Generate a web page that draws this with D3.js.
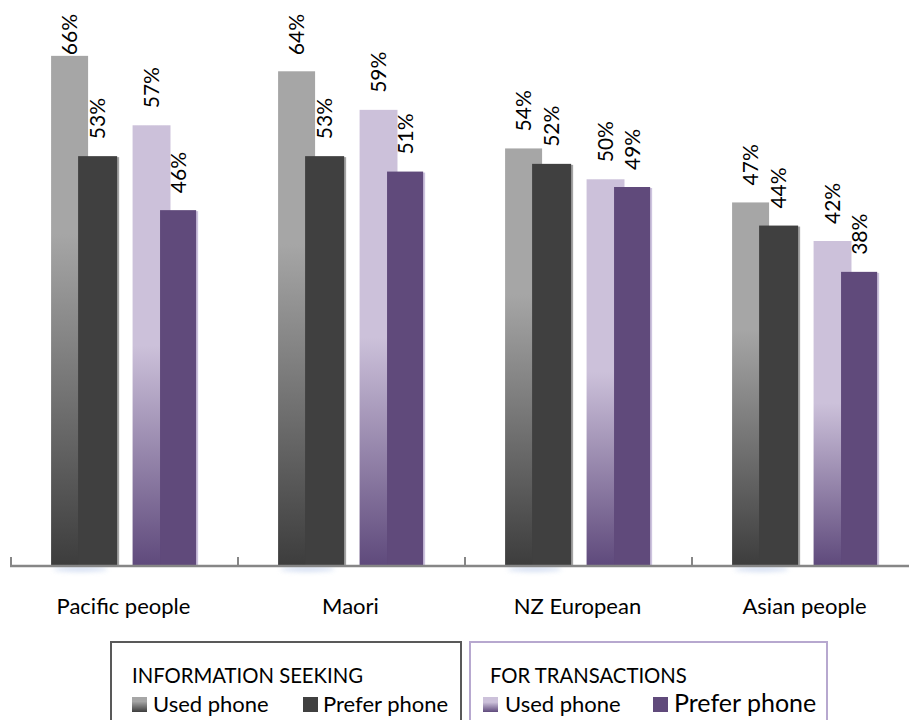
<!DOCTYPE html>
<html>
<head>
<meta charset="utf-8">
<script src="https://cdn.jsdelivr.net/npm/d3@7/dist/d3.min.js"></script>
<style>
  html, body { margin: 0; padding: 0; background: #fff; }
  svg { display: block; font-family: Lato, "Open Sans", sans-serif; }
</style>
</head>
<body>
<svg id="chart" width="909" height="720"></svg>
<script>
// Phone use by ethnic group: information seeking vs transactions
const categories = ["Pacific people", "Maori", "NZ European", "Asian people"];
const infoUsed    = [66, 64, 54, 47];
const infoPrefer  = [53, 53, 52, 44];
const transUsed   = [57, 59, 50, 42];
const transPrefer = [46, 51, 49, 38];
const seriesKeys  = ["infoUsed", "infoPrefer", "transUsed", "transPrefer"];
const seriesValues = { infoUsed, infoPrefer, transUsed, transPrefer };
const legendGroups = [
  { title: "INFORMATION SEEKING", items: ["Used phone", "Prefer phone"], keys: ["infoUsed", "infoPrefer"] },
  { title: "FOR TRANSACTIONS",    items: ["Used phone", "Prefer phone"], keys: ["transUsed", "transPrefer"] }
];

const svg = d3.select("#chart");
const defs = svg.append("defs");

// vertical gradients for the "used" series
function vGrad(id, top, bottom, start) {
  const g = defs.append("linearGradient").attr("id", id)
    .attr("x1", 0).attr("y1", 0).attr("x2", 0).attr("y2", 1);
  g.append("stop").attr("offset", 0).attr("stop-color", top);
  g.append("stop").attr("offset", start).attr("stop-color", top);
  g.append("stop").attr("offset", 1).attr("stop-color", bottom);
}
vGrad("gInfoUsed", "#a6a6a6", "#3d3d3d", 0.35);
vGrad("gTransUsed", "#ccc1da", "#5f4a7c", 0.5);
vGrad("gInfoIcon", "#a6a6a6", "#3d3d3d", 0.3);
vGrad("gTransIcon", "#ccc1da", "#5f4a7c", 0.35);

defs.append("filter").attr("id", "soft")
  .attr("x", "-50%").attr("y", "-200%").attr("width", "200%").attr("height", "500%")
  .append("feGaussianBlur").attr("stdDeviation", 2.5);

const fills = {
  infoUsed: "url(#gInfoUsed)", infoPrefer: "#404040",
  transUsed: "url(#gTransUsed)", transPrefer: "#604a7b"
};
const shadowFill = { infoPrefer: "#a3a3a3", transPrefer: "#cdc3de" };
const iconFill = {
  infoUsed: "url(#gInfoIcon)", infoPrefer: "#404040",
  transUsed: "url(#gTransIcon)", transPrefer: "#604a7b"
};

const x = d3.scaleBand().domain(categories).range([10, 918]).padding(0);
const y = d3.scaleLinear().domain([0, 70]).range([565, 25]);
const bw = x.bandwidth();
// position and width of each series inside a category, as fractions of the band
const offset = d3.scaleOrdinal().domain(seriesKeys).range([0.181, 0.300, 0.540, 0.661]);
const widthFrac = d3.scaleOrdinal().domain(seriesKeys).range([0.163, 0.172, 0.167, 0.159]);

// soft glow below the axis under the information bars
svg.append("g").selectAll("ellipse").data(categories).join("ellipse")
  .attr("cx", d => x(d) + bw * 0.31)
  .attr("cy", y(0) + 4)
  .attr("rx", bw * 0.12).attr("ry", 2.5)
  .attr("fill", "#c5d3ee").attr("opacity", 0.8)
  .attr("filter", "url(#soft)");

const plot = svg.append("g");
seriesKeys.forEach(key => {
  const data = categories.map((c, i) => ({ c, v: seriesValues[key][i] }));
  const g = plot.append("g").attr("class", key);
  if (shadowFill[key]) {
    g.selectAll("rect.sh").data(data).join("rect").attr("class", "sh")
      .attr("x", d => x(d.c) + bw * offset(key) + 2)
      .attr("y", d => y(d.v) + 1)
      .attr("width", bw * widthFrac(key))
      .attr("height", d => y(0) - y(d.v) - 1)
      .attr("fill", shadowFill[key]);
  }
  g.selectAll("rect.bar").data(data).join("rect").attr("class", "bar")
    .attr("x", d => x(d.c) + bw * offset(key))
    .attr("y", d => y(d.v))
    .attr("width", bw * widthFrac(key))
    .attr("height", d => y(0) - y(d.v))
    .attr("fill", fills[key]);
});

// axis line with category dividers
const axis = svg.append("g");
axis.append("line").attr("x1", 10).attr("x2", 918)
  .attr("y1", y(0) + 1).attr("y2", y(0) + 1)
  .attr("stroke", "#868686").attr("stroke-width", 2.5);
axis.selectAll("line.tick").data(categories).join("line").attr("class", "tick")
  .attr("x1", d => x(d) + 1).attr("x2", d => x(d) + 1)
  .attr("y1", y(0) - 8).attr("y2", y(0) + 1)
  .attr("stroke", "#868686").attr("stroke-width", 2);

axis.selectAll("text.cat").data(categories).join("text").attr("class", "cat")
  .attr("x", d => x(d) + bw / 2).attr("y", 614)
  .attr("text-anchor", "middle").attr("font-size", 22).attr("fill", "#000")
  .text(d => d);

// rotated value labels above each bar
const labels = svg.append("g");
seriesKeys.forEach(key => {
  categories.forEach((c, i) => {
    const v = seriesValues[key][i];
    const cx = x(c) + bw * offset(key) + bw * widthFrac(key) / 2;
    const t = labels.append("text")
      .attr("font-size", 21).attr("fill", "#000")
      .attr("dy", "0.36em")
      .text(v + "%");
    const len = t.node().getComputedTextLength();
    const yb = Math.max(y(v) - 17, 14 + len);
    t.attr("transform", `translate(${cx},${yb}) rotate(-90)`);
  });
});

// legend boxes
const legend = svg.append("g");
const boxes = [
  { x: 111, w: 350, stroke: "#595959", titleX: 132, iconX: [132, 303], textX: [153, 323], sizes: [22, 22] },
  { x: 470, w: 357, stroke: "#b7a8cf", titleX: 490, iconX: [483, 653], textX: [505, 674], sizes: [22, 25] }
];
legendGroups.forEach((grp, gi) => {
  const b = boxes[gi];
  legend.append("rect").attr("x", b.x).attr("y", 642).attr("width", b.w).attr("height", 120)
    .attr("fill", "none").attr("stroke", b.stroke).attr("stroke-width", 2);
  legend.append("text").attr("x", b.titleX).attr("y", 683)
    .attr("font-size", 20.3).attr("fill", "#000").text(grp.title);
  grp.items.forEach((label, j) => {
    legend.append("rect").attr("x", b.iconX[j]).attr("y", 697).attr("width", 15).attr("height", 15)
      .attr("fill", iconFill[grp.keys[j]]);
    legend.append("text").attr("x", b.textX[j]).attr("y", 712)
      .attr("font-size", b.sizes[j]).attr("fill", "#000").text(label);
  });
});
</script>
</body>
</html>
